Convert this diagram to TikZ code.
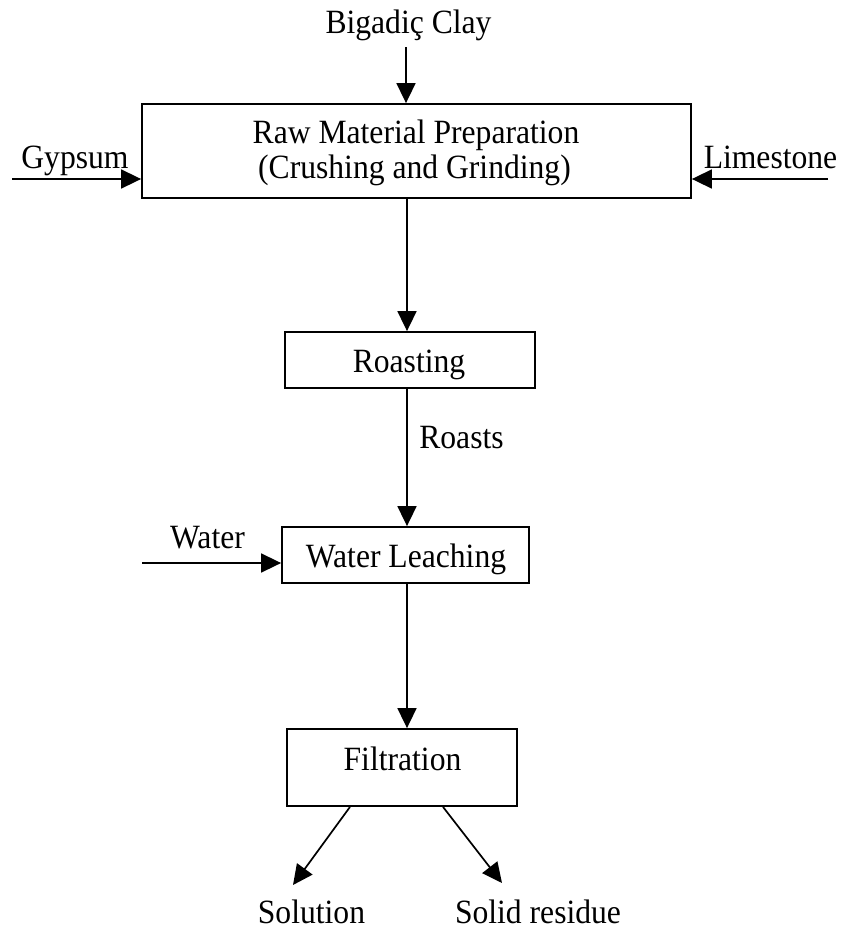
\documentclass[tikz,border=0pt]{standalone}
\usepackage{fontspec}
\setmainfont[FakeStretch=0.93]{Liberation Serif}
\usetikzlibrary{arrows.meta}
\begin{document}
\begin{tikzpicture}[x=1pt,y=-1pt,
  box/.style={draw, line width=1.8pt, inner sep=0pt},
  txt/.style={anchor=base, inner sep=0pt, font=\fontsize{34pt}{38pt}\selectfont},
  arr/.style={line width=1.7pt, -{Triangle[length=20pt,width=19pt]}}]
\useasboundingbox (0,0) rectangle (848,932);
% boxes
\node[box, minimum width=549pt, minimum height=94pt] (b1) at (416.5,151) {};
\node[box, minimum width=250pt, minimum height=56pt] (b2) at (410,360) {};
\node[box, minimum width=247pt, minimum height=56pt] (b3) at (405.5,555) {};
\node[box, minimum width=230pt, minimum height=77pt] (b4) at (402,767.5) {};
% texts
\node[txt] (clay) at (408.5,33) {Bigadiç Clay};
\node[txt] (t1a) at (416,143) {Raw Material Preparation};
\node[txt] (t1b) at (414.5,178) {(Crushing and Grinding)};
\node[txt] (gyp) at (75,168) {Gypsum};
\node[txt] (lime) at (770.5,168) {Limestone};
\node[txt] (t2) at (409,372) {Roasting};
\node[txt] (roasts) at (461.5,448) {Roasts};
\node[txt] (t3) at (406,567) {Water Leaching};
\node[txt] (water) at (207.5,548) {Water};
\node[txt] (t4) at (402.5,770) {Filtration};
\node[txt] (sol) at (311.5,923) {Solution};
\node[txt] (res) at (538,923) {Solid residue};
% helper coordinates
\coordinate (cl) at (406,47);
\coordinate (gs) at (12,179);
\coordinate (ls) at (828,179);
\coordinate (v) at (407,0);
\coordinate (ws) at (142,563);
\coordinate (s1) at (350,0);
\coordinate (s2) at (443,0);
\coordinate (e1) at (293,885);
\coordinate (e2) at (502,883);
% arrows
\draw[arr] (cl) -- (cl |- b1.north);
\draw[arr] (gs) -- (gs -| b1.west);
\draw[arr] (ls) -- (ls -| b1.east);
\draw[arr] (b1.south -| v) -- (b2.north -| v);
\draw[arr] (b2.south -| v) -- (b3.north -| v);
\draw[arr] (ws) -- (ws -| b3.west);
\draw[arr] (b3.south -| v) -- (b4.north -| v);
\draw[arr] (b4.south -| s1) -- (e1);
\draw[arr] (b4.south -| s2) -- (e2);
\end{tikzpicture}
\end{document}
